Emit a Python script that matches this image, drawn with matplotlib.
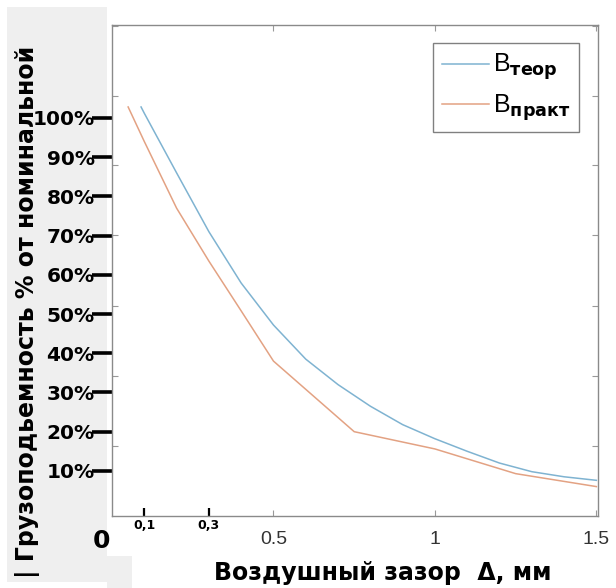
import matplotlib
matplotlib.use("Agg")
import matplotlib.pyplot as plt
from matplotlib.patches import Rectangle
from matplotlib.lines import Line2D

# Data (gap in mm, lifting force in % of nominal)
gap_teor = [0.09, 0.1, 0.2, 0.3, 0.4, 0.5, 0.6, 0.7, 0.8, 0.9, 1.0, 1.1, 1.2, 1.3, 1.4, 1.5]
b_teor = [102.8, 101.2, 86.0, 71.0, 57.9, 47.2, 38.5, 32.0, 26.5, 21.8, 18.2, 15.0, 12.0, 9.8, 8.5, 7.6]

gap_prakt = [0.05, 0.1, 0.2, 0.3, 0.4, 0.5, 0.75, 1.0, 1.25, 1.5]
b_prakt = [102.8, 94.0, 77.0, 63.5, 50.8, 38.0, 20.0, 15.6, 9.3, 6.0]

pct_ticks = [10, 20, 30, 40, 50, 60, 70, 80, 90, 100]
pct_labels = ["10%", "20%", "30%", "40%", "50%", "60%", "70%", "80%", "90%", "100%"]

gap_ticks = [0.1, 0.3]
gap_labels = ["0,1", "0,3"]
gap_ticks2 = [0.5, 1.0, 1.5]
gap_labels2 = ["0.5", "1", "1.5"]

# old grid ticks of the original plot
old_yticks = [16.3, 34.2, 52.0, 70.1, 88.0, 105.6, 123.5]

plt.rcParams["mathtext.fontset"] = "custom"
plt.rcParams["mathtext.rm"] = "Liberation Sans"
plt.rcParams["mathtext.bf"] = "DejaVu Sans:bold"

blue = "#7fb3d1"
orange = "#e3a283"

fig = plt.figure(figsize=(6.16, 5.88), dpi=100)

# gray panel on the left
fig.patches.append(Rectangle((7/616, 6/588), 100/616, 575/588, transform=fig.transFigure,
                             facecolor="#efefef", edgecolor="none", zorder=-5))
fig.patches.append(Rectangle((107/616, 0), 25/616, 32/588, transform=fig.transFigure,
                             facecolor="#efefef", edgecolor="none", zorder=-5))

ax = fig.add_axes([112/616, 1 - 516/588, 486/616, 491/588])
ax.patch.set_alpha(0)
ax.plot(gap_teor, b_teor, color=blue, lw=1.1)
ax.plot(gap_prakt, b_prakt, color=orange, lw=1.1)

ax.set_xlim(0, 1.505)
ax.set_ylim(-1.5, 123.7)

for s in ax.spines.values():
    s.set_color("#8a8a8a")
    s.set_linewidth(1)

# y axis
ax.set_yticks(pct_ticks, labels=pct_labels)
ax.set_yticks(old_yticks, minor=True)
ax.tick_params(axis="y", which="major", direction="out", length=14.5, width=2.6,
               color="black", labelsize=14.5, pad=-2, right=False)
ax.tick_params(axis="y", which="minor", direction="in", length=4, width=0.8,
               color="#999999", left=True, right=True)
for t in ax.get_yticklabels():
    t.set_fontweight("bold")

# x axis
ax.set_xticks(gap_ticks, labels=gap_labels)
ax.set_xticks(gap_ticks2, labels=gap_labels2, minor=True)
ax.tick_params(axis="x", which="major", direction="in", length=6, width=1.6,
               color="black", labelsize=9, pad=2, top=False)
ax.tick_params(axis="x", which="minor", direction="in", length=4, width=0.8,
               color="#999999", labelsize=14, labelcolor="#333333", pad=11, top=True)
for t in ax.get_xticklabels():
    t.set_fontweight("bold")
for t in ax.get_xticklabels(minor=True):
    t.set_fontfamily("Liberation Sans")

# legend
handles = [Line2D([], [], color=blue, lw=1.1), Line2D([], [], color=orange, lw=1.1)]
labels = [r"$\mathrm{B}_{\mathbf{теор}}$", r"$\mathrm{B}_{\mathbf{практ}}\quad$"]
leg = ax.legend(handles, labels, loc="upper left",
                bbox_to_anchor=((433 - 112)/486, (516 - 43)/491), borderaxespad=0,
                prop={"size": 18}, handlelength=1.9, handletextpad=0.15,
                labelspacing=0.4, borderpad=0.35, fancybox=False, framealpha=1,
                edgecolor="#808080")
leg.get_frame().set_linewidth(1)

# labels
fig.text(101/616, 1 - 541/588, "0", fontsize=18, fontweight="bold", ha="center", va="center")
fig.text(28/616, 1 - 312/588, "| Грузоподьемность % от номинальной", rotation=90,
         fontsize=17, fontweight="bold", ha="center", va="center")
fig.text(383/616, 1 - 573/588, "Воздушный зазор  Δ, мм", fontsize=17, fontweight="bold",
         ha="center", va="center")

fig.savefig("out.png", dpi=100)
